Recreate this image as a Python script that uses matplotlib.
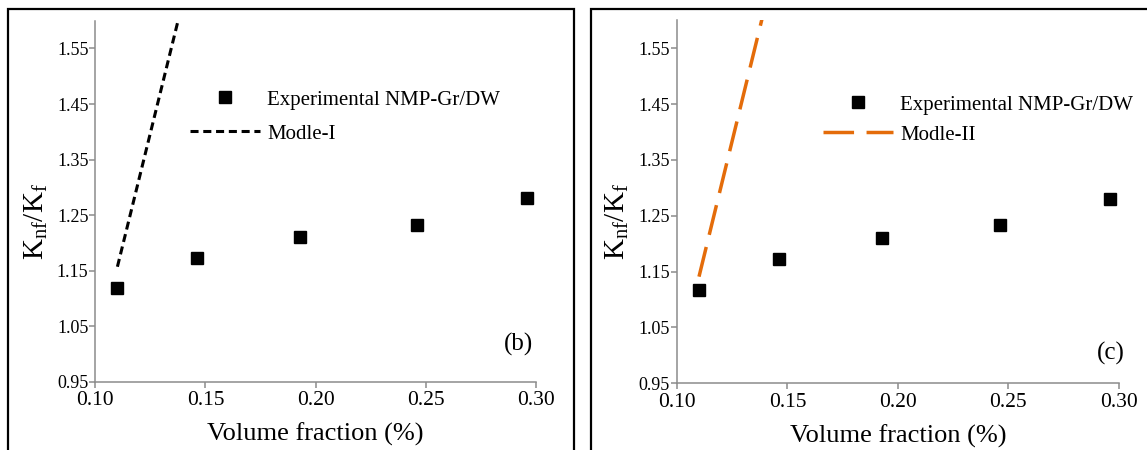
import matplotlib
matplotlib.use("Agg")
import matplotlib.pyplot as plt
from matplotlib.patches import Rectangle
from matplotlib.ticker import FormatStrFormatter

plt.rcParams['font.family'] = ['Liberation Serif', 'DejaVu Serif']
plt.rcParams['mathtext.fontset'] = 'custom'
plt.rcParams['mathtext.rm'] = 'Liberation Serif'
plt.rcParams['mathtext.it'] = 'Liberation Serif'
plt.rcParams['lines.scale_dashes'] = False

# ---- data ----
vol_frac = [0.110, 0.146, 0.193, 0.246, 0.296]
k_ratio_exp = [1.118, 1.172, 1.210, 1.233, 1.281]
model_x = [0.110, 0.146]
model_I = [1.157, 1.736]
model_II = [1.141, 1.724]
x_ticks = [0.10, 0.15, 0.20, 0.25, 0.30]
y_ticks = [0.95, 1.05, 1.15, 1.25, 1.35, 1.45, 1.55]
exp_label = "Experimental NMP-Gr/DW"
panels = [
    dict(model=model_I, label="Modle-I", color="black", lw=2.2, dashes=(5.8, 3.4),
         tag="(b)", tagpos=(0.962, 0.102),
         axpos=[95.4, 20.7, 535.7, 381.7], leg=(190, 90, 0.70)),
    dict(model=model_II, label="Modle-II", color="#E46C0A", lw=2.5, dashes=(22, 9),
         tag="(c)", tagpos=(0.981, 0.081),
         axpos=[676.9, 20.4, 1118.9, 383.3], leg=(823, 95, 0.50)),
]

W, H = 1147, 450
fig = plt.figure(figsize=(W / 100, H / 100), dpi=100)

# chart boxes
for x0, x1 in [(8, 574), (591, 1160)]:
    fig.patches.append(Rectangle((x0 / W, -0.1), (x1 - x0) / W, (H - 9) / H + 0.1,
                                 transform=fig.transFigure, fill=False,
                                 edgecolor='black', linewidth=1.6))

spine_col = '#8C8C8C'
for p in panels:
    l, t, r, b = p['axpos']
    ax = fig.add_axes([l / W, (H - b) / H, (r - l) / W, (b - t) / H])
    ax.set_xlim(0.10, 0.30)
    ax.set_ylim(0.95, 1.60)
    ax.set_xticks(x_ticks)
    ax.set_yticks(y_ticks)
    ax.xaxis.set_major_formatter(FormatStrFormatter('%.2f'))
    ax.yaxis.set_major_formatter(FormatStrFormatter('%.2f'))
    for s in ['top', 'right']:
        ax.spines[s].set_visible(False)
    for s in ['left', 'bottom']:
        ax.spines[s].set_color(spine_col)
        ax.spines[s].set_linewidth(1.1)
    ax.tick_params(axis='both', direction='out', color=spine_col, width=1.1, length=4)
    ax.tick_params(axis='x', labelsize=15.5, pad=3)
    ax.tick_params(axis='y', labelsize=13, pad=1)

    ax.plot(vol_frac, k_ratio_exp, linestyle='none', marker='s', markersize=8,
            color='black', label=exp_label)
    ln, = ax.plot(model_x, p['model'], color=p['color'], lw=p['lw'], label=p['label'])
    ln.set_dashes(p['dashes'])

    ax.set_xlabel('Volume fraction (%)', fontsize=19, labelpad=9)
    ax.set_ylabel(r'K$_{\mathrm{nf}}$/K$_{\mathrm{f}}$', fontsize=21)
    ax.yaxis.set_label_coords(-0.104, 0.445)
    ax.text(p['tagpos'][0], p['tagpos'][1], p['tag'], transform=ax.transAxes,
            ha='center', va='center', fontsize=18)

    lx, ly, lsp = p['leg']
    ax.legend(loc='upper left', bbox_to_anchor=(lx / W, (H - ly) / H),
              bbox_transform=fig.transFigure, frameon=False, fontsize=15,
              borderpad=0, borderaxespad=0, handlelength=3.36, handletextpad=0.34,
              labelspacing=lsp)

fig.savefig('out.png', dpi=100)
